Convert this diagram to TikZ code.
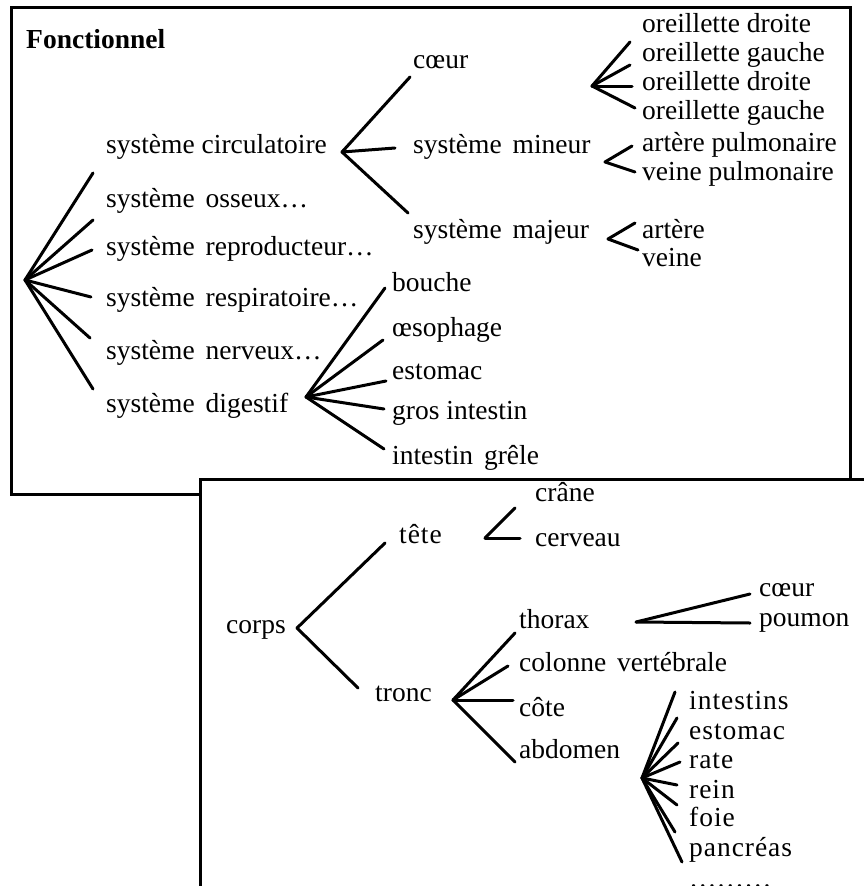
\documentclass[tikz,border=0pt]{standalone}
\usepackage{fontspec}
\setmainfont{Liberation Serif}
\newcommand{\gapx}{\hspace{4pt}}
\begin{document}
\begin{tikzpicture}[x=1pt,y=-1pt,
  lbl/.style={anchor=west, inner sep=0pt, text height=19pt, text depth=5.5pt, font=\fontsize{27.5}{30}\selectfont},
  wide/.style={lbl, font=\fontsize{27.5}{30}\selectfont\addfontfeature{LetterSpace=3.5}},
  title/.style={lbl, font=\fontsize{27.5}{30}\selectfont\bfseries},
  br/.style={line width=3pt, line cap=round},
  frame/.style={line width=3pt}]
\useasboundingbox (0,0) rectangle (863,886);

% top frame
\draw[frame] (11,7) rectangle (850,494);

\node[title] (fonc) at (26,42) {Fonctionnel};

% root fan
\coordinate (R) at (25,280);
\node[lbl] (circ) at (106,147) {système circulatoire};
\node[lbl] (oss) at (106,201) {système\gapx{} osseux…};
\node[lbl] (repro) at (106,249) {système\gapx{} reproducteur…};
\node[lbl] (resp) at (106,300) {système\gapx{} respiratoire…};
\node[lbl] (nerv) at (106,353) {système\gapx{} nerveux…};
\node[lbl] (dig) at (106,406) {système\gapx{} digestif};
\coordinate (r1) at (93,173);
\coordinate (r2) at (93,220);
\coordinate (r3) at (92,250);
\coordinate (r4) at (91,297);
\coordinate (r5) at (90,338);
\coordinate (r6) at (93,389);
\foreach \e in {r1,r2,r3,r4,r5,r6} \draw[br] (R) -- (\e);

% circulatoire
\coordinate (C) at (342,152);
\node[lbl] (coeur) at (413,62) {cœur};
\node[lbl] (mineur) at (413,147) {système\gapx{} mineur};
\node[lbl] (majeur) at (413,232) {système\gapx{} majeur};
\coordinate (c1) at (410,77);
\coordinate (c2) at (395,148);
\coordinate (c3) at (408,213);
\foreach \e in {c1,c2,c3} \draw[br] (C) -- (\e);

% oreillettes
\coordinate (O) at (592,86);
\node[lbl] (od1) at (642,26) {oreillette droite};
\node[lbl] (og1) at (642,55) {oreillette gauche};
\node[lbl] (od2) at (642,84) {oreillette droite};
\node[lbl] (og2) at (642,113) {oreillette gauche};
\coordinate (o1) at (630,42);
\coordinate (o2) at (630,65);
\coordinate (o3) at (632,86);
\coordinate (o4) at (635,108);
\foreach \e in {o1,o2,o3,o4} \draw[br] (O) -- (\e);

% mineur
\coordinate (Mi) at (605,162);
\node[lbl] (ap) at (642,145) {artère pulmonaire};
\node[lbl] (vp) at (642,174) {veine pulmonaire};
\coordinate (mi1) at (632,146);
\coordinate (mi2) at (635,172);
\draw[br] (Mi) -- (mi1);
\draw[br] (Mi) -- (mi2);

% majeur
\coordinate (Ma) at (608,239);
\node[lbl] (art) at (642,232) {artère};
\node[lbl] (vei) at (642,260) {veine};
\coordinate (ma1) at (635,223);
\coordinate (ma2) at (638,250);
\draw[br] (Ma) -- (ma1);
\draw[br] (Ma) -- (ma2);

% digestif
\coordinate (D) at (306,397);
\node[lbl] (bou) at (392,285) {bouche};
\node[lbl] (oes) at (392,330) {œsophage};
\node[lbl] (est) at (392,373) {estomac};
\node[lbl] (gro) at (392,413) {gros intestin};
\node[lbl] (gre) at (392,458) {intestin\gapx{} grêle};
\coordinate (d1) at (385,288);
\coordinate (d2) at (383,340);
\coordinate (d3) at (386,381);
\coordinate (d4) at (384,409);
\coordinate (d5) at (384,449);
\foreach \e in {d1,d2,d3,d4,d5} \draw[br] (D) -- (\e);

% bottom frame
\fill[white] (200,479) rectangle (870,900);
\draw[frame] (200,900) -- (200,479) -- (870,479);

% corps
\node[lbl] (corps) at (226,627) {corps};
\coordinate (K) at (297,628);
\node[wide] (tete) at (399,537) {tête};
\node[lbl] (tronc) at (375,695) {tronc};
\coordinate (k1) at (385,543);
\coordinate (k2) at (358,688);
\draw[br] (K) -- (k1);
\draw[br] (K) -- (k2);

% tete
\coordinate (T) at (485,538);
\node[lbl] (crane) at (535,495) {crâne};
\node[lbl] (cerv) at (535,540) {cerveau};
\coordinate (t1) at (515,508);
\coordinate (t2) at (520,538);
\draw[br] (T) -- (t1);
\draw[br] (T) -- (t2);

% tronc
\coordinate (Tr) at (453,700);
\node[lbl] (thor) at (519,622) {thorax};
\node[lbl] (col) at (519,665) {colonne\gapx{} vertébrale};
\node[lbl] (cote) at (519,710) {côte};
\node[lbl] (abd) at (519,752) {abdomen};
\coordinate (tr1) at (515,633);
\coordinate (tr2) at (508,666);
\coordinate (tr3) at (513,700);
\coordinate (tr4) at (515,762);
\foreach \e in {tr1,tr2,tr3,tr4} \draw[br] (Tr) -- (\e);

% thorax
\coordinate (Th) at (636,622);
\node[lbl] (coeur2) at (759,590) {cœur};
\node[lbl] (poum) at (759,620) {poumon};
\coordinate (th1) at (750,594);
\coordinate (th2) at (750,623);
\draw[br] (Th) -- (th1);
\draw[br] (Th) -- (th2);

% abdomen
\coordinate (A) at (642,778);
\node[wide] (int) at (689,703) {intestins};
\node[wide] (est2) at (689,733) {estomac};
\node[wide] (rate) at (689,762) {rate};
\node[wide] (rein) at (689,792) {rein};
\node[wide] (foie) at (689,820) {foie};
\node[wide] (panc) at (689,850) {pancréas};
\node[anchor=base west, inner sep=0pt, font=\fontsize{27.5}{30}\selectfont] (dots) at (689,887) {………};
\coordinate (a1) at (675,692);
\coordinate (a2) at (677,718);
\coordinate (a3) at (678,743);
\coordinate (a4) at (680,762);
\coordinate (a5) at (677,785);
\coordinate (a6) at (677,805);
\coordinate (a7) at (675,832);
\coordinate (a8) at (682,862);
\foreach \e in {a1,a2,a3,a4,a5,a6,a7,a8} \draw[br] (A) -- (\e);
\end{tikzpicture}
\end{document}
